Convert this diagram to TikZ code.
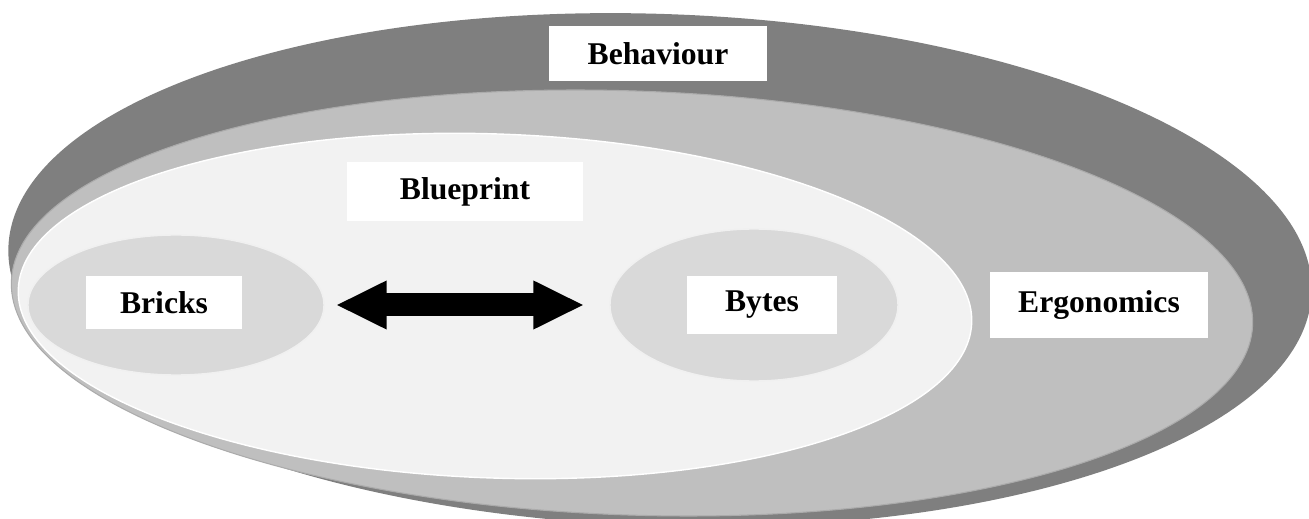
\documentclass[tikz,border=0pt]{standalone}
\usepackage{fontspec}
\setmainfont{Liberation Serif}
\usetikzlibrary{arrows.meta,shapes.geometric,positioning}
\definecolor{ringdark}{HTML}{7F7F7F}
\definecolor{ringmid}{HTML}{BFBFBF}
\definecolor{ringlight}{HTML}{F2F2F2}
\definecolor{core}{HTML}{D9D9D9}
\tikzset{
  ring/.style={ellipse,inner sep=0pt,rotate=-2},
  blob/.style={ellipse,inner sep=0pt,fill=core,draw=white!60!core,line width=0.8pt},
  lbl/.style={fill=white,inner sep=0pt,font=\fontsize{18}{21}\selectfont\bfseries},
  twoway/.style={{Triangle[length=10.2mm,width=9mm]}-{Triangle[length=10.2mm,width=9mm]},
    line width=4.6mm,black},
}
\begin{document}
\begin{tikzpicture}
  \useasboundingbox (0,0) rectangle (26.18,10.36);
  % nested rings
  \node[ring,fill=ringdark,minimum width=26.08cm,minimum height=10.24cm] (behav) at (13.2,4.96) {};
  \node[ring,fill=ringmid,draw=black!33,line width=0.6pt,minimum width=24.84cm,minimum height=8.48cm] (ergo) at (12.64,4.3) {};
  \node[ring,fill=ringlight,draw=white,line width=0.8pt,minimum width=19.08cm,minimum height=6.88cm] (blue) at (9.9,4.24) {};
  \node[blob,minimum width=5.92cm,minimum height=2.8cm] (bricks) at (3.52,4.26) {};
  \node[blob,minimum width=5.76cm,minimum height=3.04cm] (bytes) at (15.08,4.26) {};
  \draw[twoway,shorten <=2.2mm,shorten >=5mm] (bricks.east) -- (bytes.west);
  % labels
  \node[lbl,minimum width=4.36cm,minimum height=1.10cm] (behavlbl) at (13.16,9.29) {Behaviour};
  \node[lbl,minimum width=4.72cm,minimum height=1.18cm] (bluelbl) at (9.3,6.53) {Blueprint};
  \node[lbl,minimum width=3.12cm,minimum height=1.06cm] (brickslbl) at (3.28,4.31) {Bricks};
  \node[lbl,minimum width=3.0cm,minimum height=1.16cm] (byteslbl) at (15.24,4.26) {Bytes};
  \node[lbl,minimum width=4.36cm,minimum height=1.32cm] (ergolbl) at (21.98,4.26) {Ergonomics};
\end{tikzpicture}
\end{document}
